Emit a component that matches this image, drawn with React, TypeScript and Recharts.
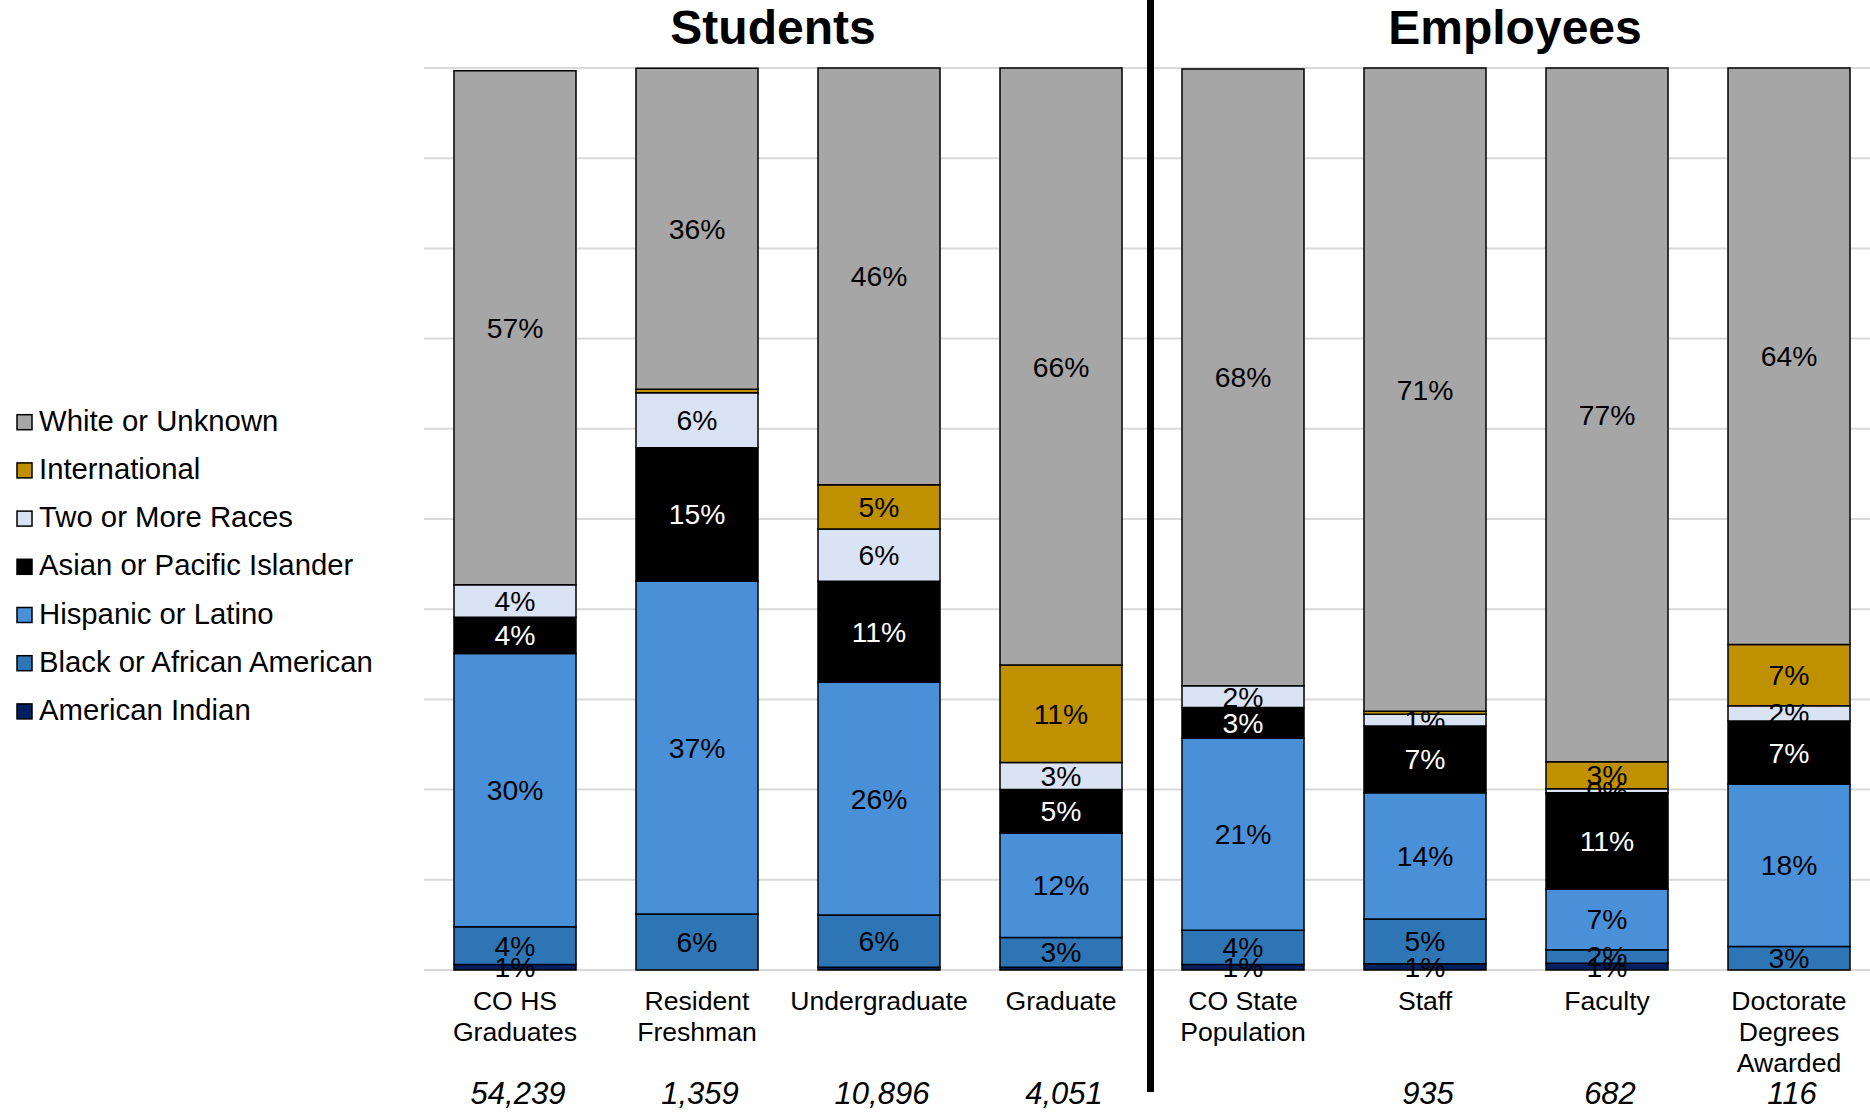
import React from 'react';
import { BarChart, Bar, XAxis, YAxis, CartesianGrid, LabelList } from 'recharts';

const FONT = '"Liberation Sans", Arial, Helvetica, sans-serif';

const categories = [
  'CO HS Graduates',
  'Resident Freshman',
  'Undergraduate',
  'Graduate',
  'CO State Population',
  'Staff',
  'Faculty',
  'Doctorate Degrees Awarded',
];
const categoryLines = [
  ['CO HS', 'Graduates'],
  ['Resident', 'Freshman'],
  ['Undergraduate'],
  ['Graduate'],
  ['CO State', 'Population'],
  ['Staff'],
  ['Faculty'],
  ['Doctorate', 'Degrees', 'Awarded'],
];
const counts = ['54,239', '1,359', '10,896', '4,051', '', '935', '682', '116'];

const americanIndian = [0.6, 0, 0.3, 0.3, 0.6, 0.7, 0.75, 0];
const blackAfricanAmerican = [4.2, 6.2, 5.8, 3.3, 3.8, 4.95, 1.5, 2.6];
const hispanicLatino = [30.3, 36.9, 25.8, 11.6, 21.3, 14.0, 6.7, 18.0];
const asianPacific = [4.0, 14.8, 11.2, 4.8, 3.4, 7.4, 10.7, 7.0];
const twoOrMore = [3.6, 6.1, 5.8, 3.0, 2.4, 1.3, 0.45, 1.7];
const international = [0, 0.38, 4.9, 10.8, 0, 0.35, 3.0, 6.8];
const whiteUnknown = [57.0, 35.6, 46.2, 66.2, 68.4, 71.3, 76.9, 63.9];

const yTicks = [0, 10, 20, 30, 40, 50, 60, 70, 80, 90, 100];

const series = [
  { key: 'americanIndian', name: 'American Indian', color: '#002060', text: '#000000', values: americanIndian },
  { key: 'black', name: 'Black or African American', color: '#2E75B6', text: '#000000', values: blackAfricanAmerican },
  { key: 'hispanic', name: 'Hispanic or Latino', color: '#4A90D9', text: '#000000', values: hispanicLatino },
  { key: 'asian', name: 'Asian or Pacific Islander', color: '#000000', text: '#FFFFFF', values: asianPacific },
  { key: 'two', name: 'Two or More Races', color: '#DAE3F3', text: '#000000', values: twoOrMore },
  { key: 'international', name: 'International', color: '#BF9000', text: '#000000', values: international },
  { key: 'white', name: 'White or Unknown', color: '#A6A6A6', text: '#000000', values: whiteUnknown },
];

const data = categories.map((name, i) => {
  const row: any = { name };
  series.forEach((s) => {
    row[s.key] = s.values[i];
  });
  return row;
});

const CategoryTick = (props: any) => {
  const { x, y, payload } = props;
  const i = categories.indexOf(payload.value);
  const lines = categoryLines[i] || [];
  return (
    <g>
      {lines.map((l, k) => (
        <text
          key={k}
          x={x}
          y={y + 40 + k * 31}
          textAnchor="middle"
          fontSize={26.6}
          fontFamily={FONT}
          fill="#000"
        >
          {l}
        </text>
      ))}
      {counts[i] ? (
        <text
          x={x + 3}
          y={y + 134}
          textAnchor="middle"
          fontSize={31}
          fontStyle="italic"
          fontFamily={FONT}
          fill="#000"
        >
          {counts[i]}
        </text>
      ) : null}
    </g>
  );
};

const makeLabel = (color: string) => (p: any) => {
  let v = p.value;
  if (Array.isArray(v)) v = v[1] - v[0];
  v = Number(v);
  if (!isFinite(v) || v < 0.4) return null;
  const cx = p.x + p.width / 2;
  const cy = p.y + p.height / 2;
  return (
    <text
      x={cx}
      y={cy + 10}
      textAnchor="middle"
      fontSize={28.3}
      fontFamily={FONT}
      fill={color}
    >
      {Math.round(v)}%
    </text>
  );
};

const legendItems = [...series].reverse();

export default function App() {
  return (
    <div
      style={{
        position: 'absolute',
        left: 0,
        top: 0,
        width: 1870,
        height: 1114,
        overflow: 'hidden',
        background: '#fff',
        fontFamily: FONT,
      }}
    >
      <BarChart
        width={1880}
        height={1114}
        data={data}
        margin={{ top: 68, right: 0, bottom: 0, left: 424 }}
        barSize={122}
      >
        <CartesianGrid vertical={false} stroke="#D9D9D9" strokeWidth={2} />
        <YAxis hide type="number" domain={[0, 100]} ticks={yTicks} />
        <XAxis
          dataKey="name"
          interval={0}
          tickLine={false}
          axisLine={false}
          tickSize={0}
          tickMargin={0}
          height={144}
          tick={CategoryTick}
        />
        {series.map((s) => (
          <Bar
            key={s.key}
            dataKey={s.key}
            name={s.name}
            stackId="a"
            fill={s.color}
            stroke="#000"
            strokeWidth={1.5}
            isAnimationActive={false}
          >
            <LabelList dataKey={s.key} content={makeLabel(s.text)} />
          </Bar>
        ))}
      </BarChart>
      <svg
        width={1870}
        height={1114}
        style={{ position: 'absolute', left: 0, top: 0, pointerEvents: 'none' }}
      >
        <rect x={1147} y={0} width={7} height={1092} fill="#000" />
        <text x={773} y={44} textAnchor="middle" fontSize={48} fontWeight="bold" fontFamily={FONT}>
          Students
        </text>
        <text x={1515} y={44} textAnchor="middle" fontSize={48} fontWeight="bold" fontFamily={FONT}>
          Employees
        </text>
        {legendItems.map((s, k) => {
          const base = 430.7 + k * 48.2;
          return (
            <g key={s.key}>
              <rect x={17} y={base - 16} width={15} height={15} fill={s.color} stroke="#000" strokeWidth={1.5} />
              <text x={39} y={base} fontSize={29.3} fontFamily={FONT} fill="#000">
                {s.name}
              </text>
            </g>
          );
        })}
      </svg>
    </div>
  );
}
